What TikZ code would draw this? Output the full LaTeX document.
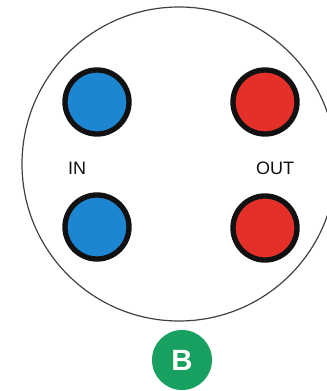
\documentclass[tikz,border=0pt]{standalone}
\usepackage{fontspec}
\setmainfont{Liberation Sans}
\usepackage{tikz}
\usetikzlibrary{positioning}
\definecolor{inblue}{HTML}{1D86D2}
\definecolor{outred}{HTML}{E5302A}
\definecolor{tagreen}{HTML}{17A060}
\definecolor{ink}{HTML}{111111}
\tikzset{port/.style={circle,draw=ink,line width=4pt,minimum size=48pt,inner sep=0pt},
  lbl/.style={font=\fontsize{13.5}{13.5}\selectfont,text=ink}}

\begin{document}
\begin{tikzpicture}[x=0.75pt,y=-0.75pt]
\useasboundingbox (0,0) rectangle (326,391);
\draw[ink!80,line width=0.9pt] (179,164) circle (157);
\node[port,fill=inblue] (in1) at (97,102) {};
\node[port,fill=inblue] (in2) at (97,227) {};
\node[port,fill=outred] (out1) at (265,102) {};
\node[port,fill=outred] (out2) at (265,228) {};
\node[lbl] (inl) at (77,168) {IN};
\node[lbl] (outl) at (275,168) {OUT};
\node[circle,fill=tagreen,minimum size=45pt,inner sep=0pt,text=white,font=\fontsize{22}{22}\selectfont\bfseries] (tag) at (182,360) {B};
\end{tikzpicture}
\end{document}
